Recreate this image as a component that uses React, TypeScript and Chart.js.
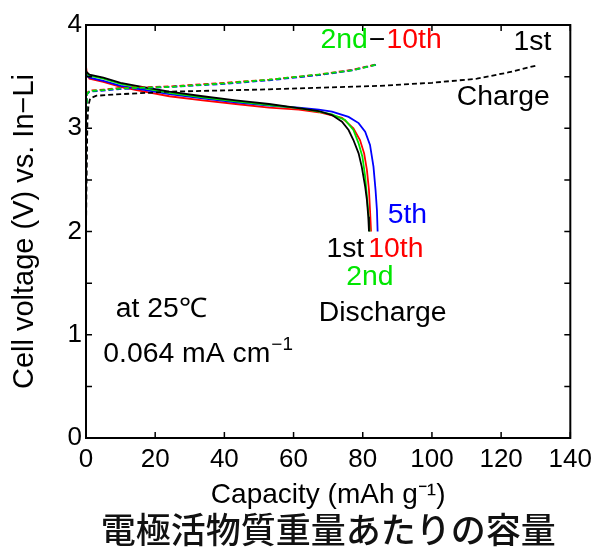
import React, { useEffect, useRef } from "react";
import { Chart, registerables } from "chart.js";

Chart.register(...registerables);

const FONT = "'Liberation Sans', Arial, Helvetica, sans-serif";

// Axis ticks
const xTickValues = [0, 20, 40, 60, 80, 100, 120, 140];
const yTickValues = [0, 1, 2, 3, 4];
const yMinorTickValues = [0.5, 1.5, 2.5, 3.5];

// Discharge curves (capacity mAh/g, voltage V)
const dis1Cap = [0, 1, 5, 10, 14.6, 24.1, 33.7, 43.3, 52.9, 62.5, 67.3, 71.1, 74.0, 75.9, 77.3, 78.8, 79.7, 80.7, 81.2, 81.6, 81.8];
const dis1V = [3.55, 3.52, 3.49, 3.44, 3.41, 3.354, 3.31, 3.27, 3.235, 3.19, 3.167, 3.128, 3.064, 2.983, 2.886, 2.757, 2.628, 2.434, 2.305, 2.143, 2.0];

const dis2Cap = [0, 1, 5, 10, 14.6, 24.1, 33.7, 43.3, 52.9, 61.5, 67.3, 71.1, 74.9, 77.3, 78.8, 79.9, 80.7, 81.3, 81.7, 82.0];
const dis2V = [3.54, 3.51, 3.48, 3.43, 3.4, 3.342, 3.3, 3.26, 3.225, 3.195, 3.16, 3.135, 3.08, 2.983, 2.854, 2.725, 2.531, 2.305, 2.15, 2.0];

const dis5Cap = [0, 1, 5, 10, 14.6, 24.1, 33.7, 43.3, 52.9, 61.5, 67.3, 71.1, 75.9, 78.8, 80.7, 82.1, 83.1, 83.7, 84.1, 84.3];
const dis5V = [3.52, 3.49, 3.46, 3.41, 3.385, 3.33, 3.29, 3.25, 3.22, 3.2, 3.18, 3.16, 3.11, 3.05, 2.967, 2.838, 2.628, 2.402, 2.208, 2.0];

const dis10Cap = [0, 0.3, 1, 5, 10, 14.6, 24.1, 33.7, 43.3, 52.9, 61.5, 67.3, 71.1, 74.0, 77.3, 79.2, 80.4, 81.2, 81.8, 82.1, 82.4];
const dis10V = [3.6, 3.52, 3.48, 3.45, 3.4, 3.37, 3.31, 3.27, 3.235, 3.2, 3.18, 3.155, 3.125, 3.1, 3.0, 2.886, 2.757, 2.596, 2.402, 2.208, 2.0];

// Charge curves
const chg1Cap = [0, 0.2, 0.4, 0.7, 1.2, 3, 10, 24.1, 52.9, 84.5, 100, 113, 122, 130.5];
const chg1V = [2.0, 2.6, 3.05, 3.22, 3.29, 3.315, 3.33, 3.354, 3.377, 3.41, 3.44, 3.48, 3.54, 3.61];

const chg2Cap = [0, 0.1, 0.3, 1, 5, 9.8, 24.1, 40, 52.9, 67.3, 76.8, 83.8];
const chg2V = [2.0, 3.0, 3.33, 3.36, 3.37, 3.385, 3.4, 3.435, 3.47, 3.52, 3.56, 3.615];

const chg5Cap = [0, 0.1, 0.3, 1, 5, 9.8, 24.1, 40, 52.9, 67.3, 76.8, 84.5];
const chg5V = [2.0, 3.0, 3.33, 3.355, 3.365, 3.38, 3.4, 3.43, 3.465, 3.515, 3.56, 3.62];

const chg10Cap = [0, 0.1, 0.3, 1, 5, 9.8, 24.1, 40, 52.9, 67.3, 76.8, 84.2];
const chg10V = [2.0, 3.0, 3.34, 3.365, 3.375, 3.39, 3.405, 3.44, 3.47, 3.52, 3.565, 3.62];

const GREEN = "#00e600";
const RED = "#ff0000";
const BLUE = "#0000ff";
const BLACK = "#000000";

const pts = (xs: number[], ys: number[]) => xs.map((x, i) => ({ x, y: ys[i] }));

type Seg = { text: string; color: string; sup?: boolean; gap?: number };
const annotations: { x: number; y: number; segs: Seg[] }[] = [
  { x: 67.8, y: 3.777, segs: [{ text: "2nd", color: GREEN }, { text: "\u2212", color: BLACK, gap: 1 }, { text: "10th", color: RED, gap: 1 }] },
  { x: 123.6, y: 3.758, segs: [{ text: "1st", color: BLACK }] },
  { x: 107.2, y: 3.225, segs: [{ text: "Charge", color: BLACK }] },
  { x: 87.2, y: 2.08, segs: [{ text: "5th", color: BLUE }] },
  { x: 69.5, y: 1.756, segs: [{ text: "1st", color: BLACK }] },
  { x: 81.6, y: 1.756, segs: [{ text: "10th", color: RED }] },
  { x: 75.2, y: 1.482, segs: [{ text: "2nd", color: GREEN }] },
  { x: 67.3, y: 1.13, segs: [{ text: "Discharge", color: BLACK }] },
  { x: 8.6, y: 1.175, segs: [{ text: "at 25\u2103", color: BLACK }] },
  { x: 5.0, y: 0.739, segs: [{ text: "0.064 mA cm", color: BLACK }, { text: "\u22121", color: BLACK, sup: true }] },
];

const STRETCH = 1.05;

const framePlugin = {
  id: "frameTicks",
  afterDatasetsDraw(chart: any) {
    const { ctx, chartArea: a, scales } = chart;
    const x = scales.x;
    const y = scales.y;
    ctx.save();
    ctx.strokeStyle = "#000";
    ctx.lineWidth = 2;
    ctx.strokeRect(a.left, a.top, a.right - a.left, a.bottom - a.top);
    ctx.lineWidth = 1.5;
    ctx.beginPath();
    xTickValues.forEach((v) => {
      const px = x.getPixelForValue(v);
      ctx.moveTo(px, a.bottom);
      ctx.lineTo(px, a.bottom - 6);
      ctx.moveTo(px, a.top);
      ctx.lineTo(px, a.top + 6);
    });
    [...yTickValues, ...yMinorTickValues].forEach((v) => {
      const py = y.getPixelForValue(v);
      ctx.moveTo(a.left, py);
      ctx.lineTo(a.left + 6, py);
      ctx.moveTo(a.right, py);
      ctx.lineTo(a.right - 6, py);
    });
    ctx.stroke();
    ctx.restore();
  },
  afterDraw(chart: any) {
    const { ctx, scales } = chart;
    const x = scales.x;
    const y = scales.y;
    annotations.forEach((ann) => {
      const px0 = x.getPixelForValue(ann.x);
      const py = y.getPixelForValue(ann.y);
      ctx.save();
      ctx.translate(px0, py);
      ctx.scale(STRETCH, 1);
      ctx.textBaseline = "alphabetic";
      ctx.textAlign = "left";
      let px = 0;
      ann.segs.forEach((s) => {
        px += s.gap || 0;
        ctx.fillStyle = s.color;
        if (s.sup) {
          ctx.font = `18px ${FONT}`;
          ctx.fillText(s.text, px + 1, -12);
          px += ctx.measureText(s.text).width + 1;
        } else {
          ctx.font = `27px ${FONT}`;
          ctx.fillText(s.text, px, 0);
          px += ctx.measureText(s.text).width;
        }
      });
      ctx.restore();
    });
  },
};

export default function App() {
  const ref = useRef<HTMLCanvasElement | null>(null);

  useEffect(() => {
    document.body.style.margin = "0";
    const canvas = ref.current;
    if (!canvas) return;
    const solid = (label: string, data: any, color: string) => ({
      label,
      data,
      borderColor: color,
      backgroundColor: color,
      borderWidth: 1.8,
      pointRadius: 0,
      fill: false,
      tension: 0,
    });
    const dashed = (label: string, data: any, color: string) => ({
      ...solid(label, data, color),
      borderDash: [5, 3],
    });
    const chart = new Chart(canvas, {
      type: "line",
      data: {
        datasets: [
          dashed("Charge 1st", pts(chg1Cap, chg1V), BLACK),
          dashed("Charge 2nd", pts(chg2Cap, chg2V), GREEN),
          dashed("Charge 5th", pts(chg5Cap, chg5V), BLUE),
          dashed("Charge 10th", pts(chg10Cap, chg10V), RED),
          solid("Discharge 1st", pts(dis1Cap, dis1V), BLACK),
          solid("Discharge 2nd", pts(dis2Cap, dis2V), GREEN),
          solid("Discharge 5th", pts(dis5Cap, dis5V), BLUE),
          solid("Discharge 10th", pts(dis10Cap, dis10V), RED),
        ] as any,
      },
      options: {
        responsive: false,
        animation: false,
        devicePixelRatio: 1,
        layout: { padding: { left: 0, top: 25, right: 25, bottom: 0 } },
        plugins: {
          legend: { display: false },
          tooltip: { enabled: false },
          title: {
            display: true,
            position: "bottom",
            fullSize: false,
            text: "電極活物質重量あたりの容量",
            color: "#111",
            font: { family: "'Noto Sans CJK JP', sans-serif", size: 35, weight: 500, lineHeight: 1.2 },
            padding: { top: 0, bottom: 2 },
          },
        },
        scales: {
          x: {
            type: "linear",
            min: 0,
            max: 140,
            ticks: { stepSize: 20, color: "#000", font: { family: FONT, size: 26 }, padding: 6, maxRotation: 0 },
            grid: { display: false, drawTicks: false },
            border: { display: false },
            title: {
              display: true,
              text: "Capacity (mAh g\u207B\u00B9)",
              color: "#000",
              font: { family: FONT, size: 28, lineHeight: 1.0 },
              padding: { top: 0, bottom: 0 },
            },
            afterFit: (s: any) => {
              s.height = 71;
            },
          },
          y: {
            type: "linear",
            min: 0,
            max: 4,
            ticks: { stepSize: 1, color: "#000", font: { family: FONT, size: 26 }, padding: 4 },
            grid: { display: false, drawTicks: false },
            border: { display: false },
            title: {
              display: true,
              text: "Cell voltage (V) vs. In\u2212Li",
              color: "#000",
              font: { family: FONT, size: 29, lineHeight: 1.2 },
              padding: { top: 8, bottom: 0 },
            },
            afterFit: (s: any) => {
              s.width = 86;
            },
          },
        },
      } as any,
      plugins: [framePlugin],
    });
    return () => chart.destroy();
  }, []);

  return (
    <div style={{ position: "absolute", left: 0, top: 0, width: 598, height: 553, background: "#fff" }}>
      <canvas ref={ref} width={598} height={553} style={{ width: 598, height: 553, display: "block" }} />
    </div>
  );
}
